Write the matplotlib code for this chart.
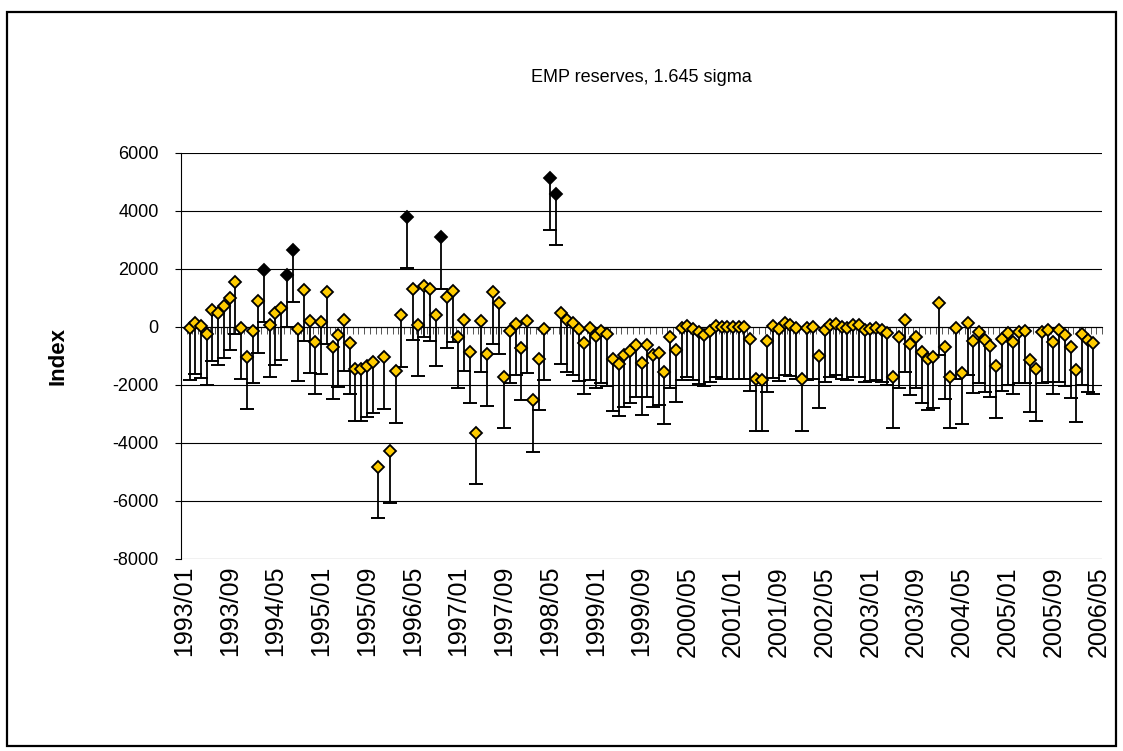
import numpy as np
import matplotlib
matplotlib.use("Agg")
import matplotlib.pyplot as plt
from matplotlib.patches import Rectangle

plt.rcParams['font.family'] = ['Liberation Sans', 'DejaVu Sans']
plt.rcParams['axes.unicode_minus'] = False

# monthly categories 1993/01 .. 2006/05, labels every 8 months
months = [f"{1993 + m // 12}/{m % 12 + 1:02d}" for m in range(161)]
label_months = months[::8]

# EMP index, 1993/02 .. 2006/04 (category 1..159)
emp = [
    -50, 145, 30, -235, 600, 465, 720, 1000, 1550, -30,
    -1040, -140, 880, 1950, 60, 465, 640, 1790, 2640, -85,
    1290, 210, -525, 170, 1200, -690, -285, 250, -545, -1465,
    -1465, -1330, -1200, -4820, -1040, -4280, -1520, 410, 3800, 1315,
    85, 1430, 1300, 430, 3100, 1040, 1250, -330, 250, -855,
    -3650, 215, -940, 1200, 835, -1720, -145, 110, -740, 200,
    -2520, -1100, -60, 5140, 4590, 490, 225, 130, -85, -545,
    -50, -315, -145, -250, -1120, -1280, -980, -835, -625, -1250,
    -620, -975, -900, -1550, -340, -800, -40, 40, -55, -170,
    -260, -125, 40, 0, 0, 0, 0, 0, -430, -1810,
    -1820, -475, 30, -85, 130, 85, -25, -1800, -45, -15,
    -1000, -120, 60, 110, 0, -50, 60, 60, -110, -85,
    -50, -120, -225, -1720, -340, 225, -580, -340, -855, -1100,
    -1030, 810, -695, -1720, -30, -1580, 120, -490, -165, -455,
    -640, -1350, -430, -225, -520, -165, -145, -1155, -1465, -165,
    -110, -520, -110, -260, -685, -1500, -235, -455, -545,
]
band = 1780  # 1.645 sigma, drawn as a minus error bar

x = np.arange(1, len(emp) + 1)
y = np.array(emp, dtype=float)
lower = y - band
signif = lower > 0

fig = plt.figure(figsize=(11.23, 7.51), dpi=100)
ax = fig.add_axes([0.1612, 0.2557, 0.9813 - 0.1612, 0.7963 - 0.2557])

ax.set_xlim(-0.5, 160.5)
ax.set_ylim(-8000, 6000)

# bars down to the band and their end caps
ax.vlines(x, lower, y, colors='black', linewidth=1.3, zorder=3)
ax.plot(x, lower, linestyle='none', marker='_', markersize=9.5,
        markeredgewidth=1.4, color='black', zorder=3)

ax.plot(x[~signif], y[~signif], linestyle='none', marker='D', markersize=6.2,
        markerfacecolor='#FFCC00', markeredgecolor='black', markeredgewidth=1.3, zorder=4)
ax.plot(x[signif], y[signif], linestyle='none', marker='D', markersize=6.2,
        markerfacecolor='black', markeredgecolor='black', markeredgewidth=1.3, zorder=4)

ax.set_yticks(np.arange(-8000, 6001, 2000))
ax.grid(axis='y', color='black', linewidth=0.8)
ax.set_axisbelow(True)
ax.tick_params(axis='y', direction='out', length=4, width=0.8, labelsize=13, pad=12)

ax.set_xticks(np.arange(0, 161, 8))
ax.set_xticklabels(label_months, rotation=90, fontsize=18)
ax.tick_params(axis='x', length=0, pad=5)

for s in ['top', 'right', 'bottom']:
    ax.spines[s].set_visible(False)
ax.spines['left'].set_linewidth(0.8)

# category axis crossing at zero, with a tick between every month
ax2 = ax.twiny()
ax2.set_xlim(ax.get_xlim())
for s in ['top', 'right', 'left']:
    ax2.spines[s].set_visible(False)
ax2.spines['bottom'].set_position(('data', 0))
ax2.spines['bottom'].set_linewidth(0.8)
ax2.xaxis.set_ticks_position('bottom')
ax2.set_xticks(np.arange(-0.5, 161, 1))
ax2.set_xticklabels([])
ax2.tick_params(axis='x', direction='out', length=5, width=0.7, color='#555555')
ax2.set_zorder(ax.get_zorder() - 1)
ax.patch.set_visible(False)

ax.set_ylabel('Index', fontsize=16, fontweight='bold')
ax.yaxis.set_label_coords((68 - 181) / 921, 0.5)
fig.text(641 / 1123, 1 - 77 / 751, 'EMP reserves, 1.645 sigma', fontsize=13,
         ha='center', va='center')

fig.patches.append(Rectangle((7 / 1123, 1 - 746 / 751), (1116 - 7) / 1123, (746 - 12) / 751,
                             transform=fig.transFigure, fill=False, edgecolor='black',
                             linewidth=1.6))

fig.savefig('out.png', dpi=100)
